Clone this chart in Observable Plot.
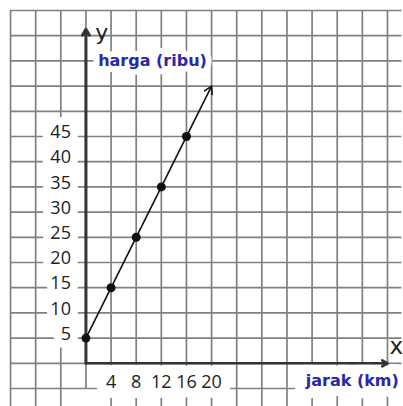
<!DOCTYPE html>
<html><head><meta charset="utf-8">
<script src="https://cdn.jsdelivr.net/npm/d3@7"></script>
<script src="https://cdn.jsdelivr.net/npm/@observablehq/plot@0.6"></script>
<style>html,body{margin:0;padding:0;background:#fff}</style>
</head><body><div id="chart"></div>
<script>
// data
const jarak = [0, 4, 8, 12, 16];          // km
const harga = [5, 15, 25, 35, 45];        // ribu
const arrowEnd = {x: 20, y: 55};
const xTicks = [4, 8, 12, 16, 20];
const yTicks = [5, 10, 15, 20, 25, 30, 35, 40, 45];
const gridX = [-12, -8, -4, 0, 4, 8, 12, 16, 20, 24, 28, 32, 36, 40, 44, 48];
const gridY = [-5, 0, 5, 10, 15, 20, 25, 30, 35, 40, 45, 50, 55, 60, 65, 70];
const xLabel = "jarak (km)";
const yLabel = "harga (ribu)";

const points = jarak.map((x, i) => ({x, y: harga[i]}));

const gridColor = "#808080";
const blue = "#2828a8";
const haloOnly = (w) => ({fill: "white", stroke: "white", strokeWidth: w, strokeLinejoin: "round"});

const yTickOpts = {x: 0, y: d => d, text: d => String(d), dx: -15, dy: -4, textAnchor: "end",
  fontSize: 18, fontFamily: "Open Sans"};
const xTickOpts = {x: d => d, y: 0, text: d => String(d), dy: 19, fontSize: 18, fontFamily: "Open Sans"};
const yLabOpts = {x: 10.6, y: 60, text: d => d, fontSize: 16, fontWeight: "bold", fontFamily: "DejaVu Sans"};
const xLabOpts = {x: 42.4, y: -3.4, text: d => d, fontSize: 16, fontWeight: "bold", fontFamily: "DejaVu Sans"};

const chart = Plot.plot({
  width: 403,
  height: 406,
  margin: 0,
  style: {background: "white"},
  x: {domain: [-13.6, 50.55], axis: null},
  y: {domain: [-8.57, 71.98], axis: null},
  marks: [
    Plot.ruleX(gridX, {x: d => d, y1: 70, y2: d => d === 0 ? -5 : -9, stroke: gridColor, strokeWidth: 1.7}),
    Plot.ruleY(gridY, {y: d => d, x1: -12, x2: 50.3, stroke: gridColor, strokeWidth: 1.7}),
    // white masks behind labels
    Plot.text(yTicks, {...yTickOpts, ...haloOnly(16)}),
    Plot.text(xTicks, {...xTickOpts, ...haloOnly(20)}),
    Plot.text([yLabel], {...yLabOpts, ...haloOnly(12)}),
    Plot.text([xLabel], {...xLabOpts, ...haloOnly(20)}),
    // labels
    Plot.text(yTicks, {...yTickOpts, fill: "#222"}),
    Plot.text(xTicks, {...xTickOpts, fill: "#222"}),
    Plot.text([yLabel], {...yLabOpts, fill: blue}),
    Plot.text([xLabel], {...xLabOpts, fill: blue}),
    Plot.text(["y"], {x: 2.5, y: 65.6, text: d => d, fontSize: 22, fontFamily: "DejaVu Sans", fill: "#222"}),
    Plot.text(["x"], {x: 49.4, y: 3.3, text: d => d, fontSize: 23, fontFamily: "DejaVu Sans", fill: "#222"}),
    // axes
    Plot.arrow([{x1: 0, y1: 0, x2: 0, y2: 66.3}], {x1: "x1", y1: "y1", x2: "x2", y2: "y2",
      stroke: "#333", strokeWidth: 3, headLength: 3.5}),
    Plot.arrow([{x1: 0, y1: 0, x2: 48, y2: 0}], {x1: "x1", y1: "y1", x2: "x2", y2: "y2",
      stroke: "#333", strokeWidth: 2.6, headLength: 3.5}),
    // data
    Plot.arrow([{x1: jarak[0], y1: harga[0], x2: arrowEnd.x, y2: arrowEnd.y}],
      {x1: "x1", y1: "y1", x2: "x2", y2: "y2", stroke: "#111", strokeWidth: 1.6, headLength: 8}),
    Plot.dot(points, {x: "x", y: "y", r: 4.5, fill: "#111"})
  ]
});
document.getElementById("chart").append(chart);
</script>
</body></html>
